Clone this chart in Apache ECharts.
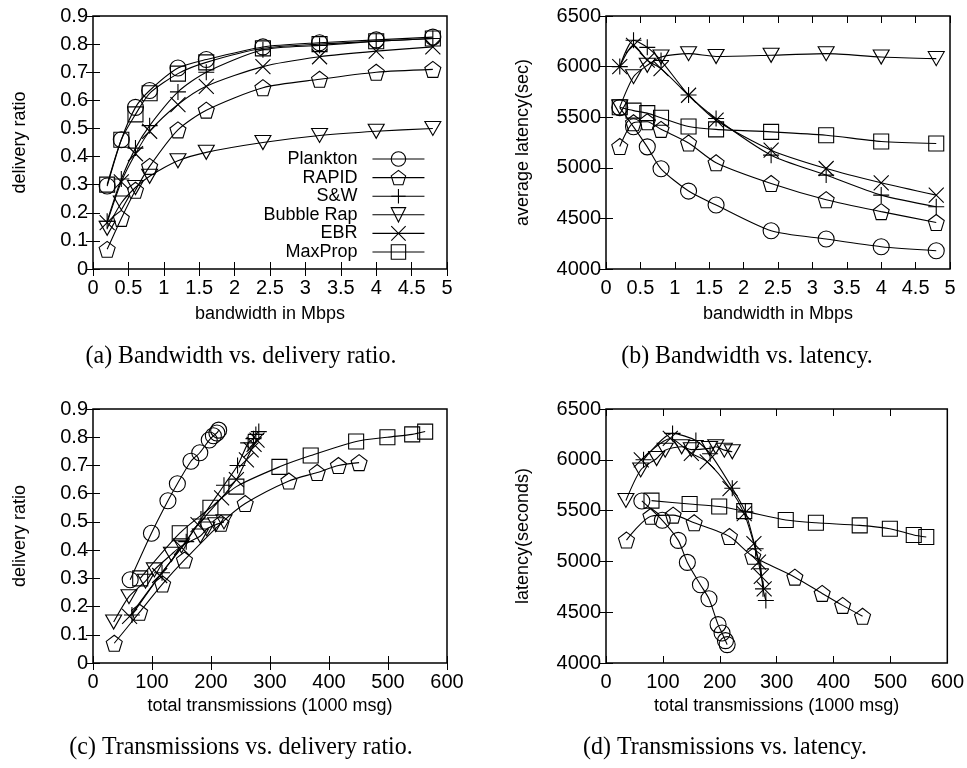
<!DOCTYPE html>
<html><head><meta charset="utf-8">
<script src="https://cdn.jsdelivr.net/npm/echarts@6/dist/echarts.min.js"></script>
<style>html,body{margin:0;padding:0;background:#fff}#c{width:967px;height:768px}</style>
</head><body><div id="c"></div>
<script>
// ---- data ----
const seriesNames = ['Plankton', 'RAPID', 'S&W', 'Bubble Rap', 'EBR', 'MaxProp'];
const bandwidth = [0.2, 0.4, 0.6, 0.8, 1.2, 1.6, 2.4, 3.2, 4.0, 4.8];

const deliveryPlankton = [0.295, 0.46, 0.575, 0.635, 0.715, 0.745, 0.79, 0.805, 0.815, 0.825];
const deliveryRapid    = [0.07, 0.18, 0.28, 0.365, 0.495, 0.565, 0.645, 0.675, 0.70, 0.71];
const deliverySW       = [0.17, 0.32, 0.43, 0.51, 0.63, 0.70, 0.78, 0.795, 0.81, 0.82];
const deliveryBubble   = [0.145, 0.235, 0.29, 0.33, 0.385, 0.415, 0.45, 0.475, 0.49, 0.50];
const deliveryEBR      = [0.165, 0.31, 0.41, 0.49, 0.585, 0.65, 0.72, 0.755, 0.775, 0.79];
const deliveryMaxProp  = [0.30, 0.46, 0.55, 0.625, 0.695, 0.735, 0.785, 0.80, 0.81, 0.82];

const latencyPlankton = [5595, 5405, 5207, 4990, 4770, 4632, 4378, 4296, 4220, 4181];
const latencyRapid    = [5210, 5445, 5455, 5380, 5245, 5050, 4845, 4685, 4567, 4460];
const latencySW       = [6000, 6260, 6190, 6060, 5720, 5487, 5125, 4928, 4730, 4615];
const latencyBubble   = [5600, 5900, 6013, 6095, 6128, 6100, 6112, 6128, 6095, 6079];
const latencyEBR      = [6000, 6210, 6063, 5980, 5717, 5470, 5174, 4993, 4852, 4730];
const latencyMaxProp  = [5598, 5565, 5540, 5495, 5408, 5380, 5355, 5322, 5260, 5240];

const transPlankton = [63, 99, 127, 143, 166, 181, 197, 204, 210, 213];
const transRapid    = [36, 79, 118, 155, 217, 258, 332, 380, 416, 451];
const transSW       = [66, 117, 158, 183, 222, 245, 263, 272, 276, 281];
const transBubble   = [35, 61, 89, 104, 133, 150, 182, 193, 208, 222];
const transEBR      = [62, 113, 150, 178, 218, 243, 260, 268, 273, 278];
const transMaxProp  = [80, 147, 199, 243, 316, 369, 446, 499, 541, 563];

const captions = ['(a) Bandwidth vs. delivery ratio.', '(b) Bandwidth vs. latency.',
                  '(c) Transmissions vs. delivery ratio.', '(d) Transmissions vs. latency.'];
const xTitles = ['bandwidth in Mbps', 'bandwidth in Mbps', 'total transmissions (1000 msg)', 'total transmissions (1000 msg)'];
const yTitles = ['delivery ratio', 'average latency(sec)', 'delivery ratio', 'latency(seconds)'];

// ---- build ----
const delivery = [deliveryPlankton, deliveryRapid, deliverySW, deliveryBubble, deliveryEBR, deliveryMaxProp];
const latency = [latencyPlankton, latencyRapid, latencySW, latencyBubble, latencyEBR, latencyMaxProp];
const trans = [transPlankton, transRapid, transSW, transBubble, transEBR, transMaxProp];

const symbols = [
  'circle',
  'path://M0,-10L9.51,-3.09L5.88,8.09L-5.88,8.09L-9.51,-3.09Z',
  'path://M-10,0L10,0M0,-10L0,10',
  'path://M-10,-6L10,-6L0,11Z',
  'path://M-10,-10L10,10M-10,10L10,-10',
  'rect'
];
const symbolSizes = [16, 16, 16, [16, 14], 15, 15];

const grids = [
  {left: 93, top: 16, width: 354, height: 253},
  {left: 606, top: 16, width: 344, height: 253},
  {left: 93, top: 409, width: 354, height: 254},
  {left: 606, top: 409, width: 344, height: 254}
];
const xRanges = [[0, 5, 0.5], [0, 5, 0.5], [0, 600, 100], [0, 600, 100]];
const yRanges = [[0, 0.9, 0.1], [4000, 6500, 500], [0, 0.9, 0.1], [4000, 6500, 500]];
const yNameGaps = [64, 74, 64, 74];
const xNameGaps = [36, 36, 34, 34];

const FONT = 'Liberation Sans';
const fmt = v => String(+(+v).toFixed(3));
const tick = {inside: true, length: 7, lineStyle: {color: '#000', width: 1}};

const xAxis = [], yAxis = [], series = [];
grids.forEach((g, gi) => {
  const [x0, x1, xi] = xRanges[gi];
  const [y0, y1, yi] = yRanges[gi];
  xAxis.push({
    type: 'value', gridIndex: gi, position: 'bottom', min: x0, max: x1, interval: xi,
    axisLine: {show: false}, splitLine: {show: false}, axisTick: tick,
    axisLabel: {color: '#000', fontFamily: FONT, fontSize: 20, margin: 9, formatter: fmt},
    name: xTitles[gi], nameLocation: 'middle', nameGap: xNameGaps[gi],
    nameTextStyle: {color: '#000', fontFamily: FONT, fontSize: 18}
  });
  xAxis.push({
    type: 'value', gridIndex: gi, position: 'top', min: x0, max: x1, interval: xi,
    axisLine: {show: false}, splitLine: {show: false}, axisTick: tick, axisLabel: {show: false}
  });
  yAxis.push({
    type: 'value', gridIndex: gi, position: 'left', min: y0, max: y1, interval: yi,
    axisLine: {show: false}, splitLine: {show: false}, axisTick: tick,
    axisLabel: {color: '#000', fontFamily: FONT, fontSize: 20, margin: 5, formatter: fmt},
    name: yTitles[gi], nameLocation: 'middle', nameGap: yNameGaps[gi],
    nameTextStyle: {color: '#000', fontFamily: FONT, fontSize: 18}
  });
  yAxis.push({
    type: 'value', gridIndex: gi, position: 'right', min: y0, max: y1, interval: yi,
    axisLine: {show: false}, splitLine: {show: false}, axisTick: tick, axisLabel: {show: false}
  });
  seriesNames.forEach((name, si) => {
    let data;
    if (gi === 0) data = bandwidth.map((b, k) => [b, delivery[si][k]]);
    else if (gi === 1) data = bandwidth.map((b, k) => [b, latency[si][k]]);
    else if (gi === 2) data = trans[si].map((t, k) => [t, delivery[si][k]]);
    else data = trans[si].map((t, k) => [t, latency[si][k]]);
    series.push({
      type: 'line', name, xAxisIndex: gi * 2, yAxisIndex: gi * 2, data,
      smooth: 0.25, symbol: symbols[si], symbolSize: symbolSizes[si], showSymbol: true,
      lineStyle: {color: '#000', width: 1.1},
      itemStyle: {color: 'transparent', borderColor: '#000', borderWidth: 1.1},
      emphasis: {disabled: true}, animation: false, z: 2
    });
  });
});

const graphic = captions.map((t, i) => ({
  type: 'text',
  x: [241, 747, 241, 725][i], y: [356, 356, 747, 747][i],
  scaleX: 0.92,
  style: {text: t, font: '26px "Liberation Serif"', fill: '#000', textAlign: 'center', textVerticalAlign: 'middle'}
}));

const option = {
  backgroundColor: '#fff',
  animation: false,
  grid: grids.map(g => Object.assign({show: true, borderColor: '#000', borderWidth: 1.5, backgroundColor: 'transparent', containLabel: false}, g)),
  xAxis, yAxis, series, graphic,
  legend: {
    data: seriesNames, orient: 'vertical', align: 'right',
    right: 542, top: 150, padding: 0,
    itemWidth: 52, itemHeight: 18, itemGap: 0.6,
    formatter: n => n + '  ',
    textStyle: {color: '#000', fontFamily: FONT, fontSize: 18, lineHeight: 16},
    itemStyle: {color: 'transparent', borderColor: '#000', borderWidth: 1.1},
    lineStyle: {color: '#000', width: 1.1},
    selectedMode: false
  }
};
const chart = echarts.init(document.getElementById('c'), null, {renderer: 'canvas'});
chart.setOption(option);
</script></body></html>
